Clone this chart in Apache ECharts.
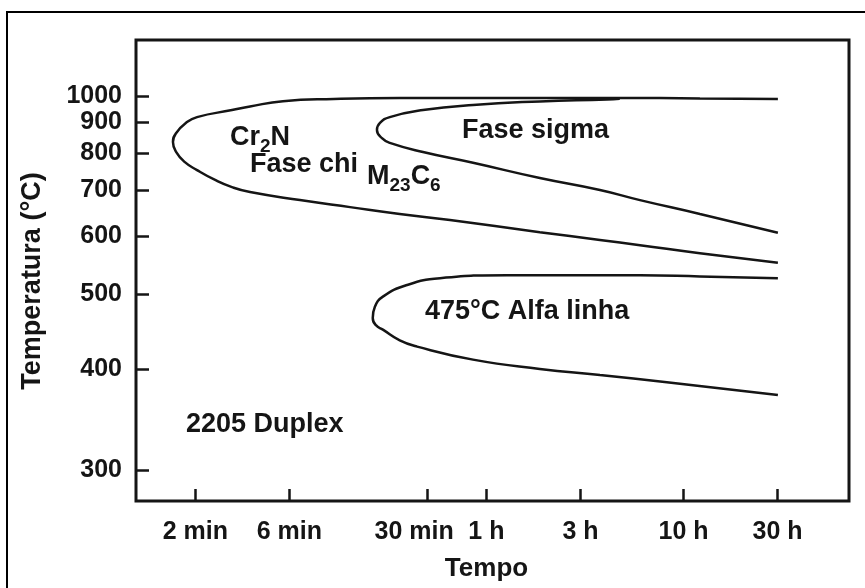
<!DOCTYPE html>
<html>
<head>
<meta charset="utf-8">
<script src="https://cdn.jsdelivr.net/npm/echarts@6/dist/echarts.min.js"></script>
<style>
  html, body { margin: 0; padding: 0; background: #ffffff; }
  #chart { width: 865px; height: 588px; }
</style>
</head>
<body>
<div id="chart"></div>
<script>
// Precipitation curves (TTP diagram) for 2205 duplex stainless steel.
// Times are in minutes, temperatures in °C.

const timeTicks = [2, 6, 30, 60, 180, 600, 1800];
const timeTickLabels = ['2 min', '6 min', '30 min', '1 h', '3 h', '10 h', '30 h'];
const tempTicks = [300, 400, 500, 600, 700, 800, 900, 1000];

// Cr2N / chi phase / M23C6 envelope: upper branch, nose, lower branch
const chiTime = [1808, 727, 285, 112, 39.2, 21.8, 10.1, 5.57, 3.79, 3.07, 2.04, 1.79, 1.60, 1.54, 1.60, 1.77, 2.04, 2.52, 3.07, 3.79, 6.79, 12.2, 21.8, 39.2, 112, 226, 361, 727, 1808];
const chiTemp = [988, 990, 992, 992, 992, 992, 988, 979, 958, 944, 918, 897, 863, 834, 803, 774, 752, 726, 708, 696, 677, 661, 646, 633, 608, 593, 583, 568, 551];

// Sigma phase envelope
const sigmaTime = [285, 245, 112, 51.3, 28.6, 19.4, 17.3, 16.7, 17.7, 19.4, 28.6, 51.3, 112, 226, 361, 727, 1808];
const sigmaTemp = [989, 986, 978, 964, 944, 918, 897, 873, 846, 831, 803, 772, 731, 701, 677, 646, 607];

// 475 °C embrittlement (alpha prime) envelope
const alphaTime = [1808, 727, 361, 179, 76.3, 34.9, 23.7, 17.9, 16.3, 15.9, 16.5, 17.9, 21.8, 26.7, 51.3, 112, 226, 494, 1808];
const alphaTemp = [525, 528, 530, 530, 530, 525, 514, 496, 481, 465, 455, 449, 435, 427, 411, 400, 393, 385, 371];

// Axis extents
const TIME_MIN = 1, TIME_MAX = 4150;
const TEMP_TOP = 1285, TEMP_BOTTOM = 275;

// Time axis is logarithmic; temperature axis is linear in 1/T (absolute).
const toX = m => Math.log10(m);
const toY = t => 10000 / (t + 273.15);
const fromY = v => 10000 / v - 273.15;

const pairs = (ts, temps) => ts.map((m, i) => [toX(m), toY(temps[i])]);

const FONT = "'Liberation Sans', Arial, Helvetica, sans-serif";
const INK = '#151515';

const chart = echarts.init(document.getElementById('chart'), null, { renderer: 'canvas' });

const tickX = timeTicks.map(toX);
const tickY = tempTicks.map(toY);

function curve(name, data) {
  return {
    name, type: 'line', data,
    showSymbol: false, symbol: 'none',
    smooth: 0.5,
    lineStyle: { color: INK, width: 2.5 },
    silent: true, z: 3
  };
}

function textItem(text, x, y, rich) {
  return {
    type: 'text', x, y, silent: true, z: 10,
    style: {
      text, rich,
      fill: INK,
      font: `bold 27px ${FONT}`,
      textAlign: 'left', textVerticalAlign: 'middle'
    }
  };
}

const subRich = {
  a: { fontSize: 27, fontWeight: 'bold', fontFamily: FONT, color: INK, lineHeight: 30 },
  s: { fontSize: 19, fontWeight: 'bold', fontFamily: FONT, color: INK, lineHeight: 24, verticalAlign: 'bottom', padding: [0, 0, -3, 0] }
};

chart.setOption({
  backgroundColor: '#ffffff',
  animation: false,
  grid: {
    left: 136, right: 16, top: 40, bottom: 87,
    containLabel: false, outerBoundsMode: 'none',
    show: true, borderColor: INK, borderWidth: 3, backgroundColor: 'transparent'
  },
  xAxis: {
    type: 'value',
    min: toX(TIME_MIN), max: toX(TIME_MAX),
    name: 'Tempo', nameLocation: 'middle', nameGap: 55,
    nameTextStyle: { color: INK, fontFamily: FONT, fontWeight: 'bold', fontSize: 26, padding: [0, 12, 0, 0] },
    axisLine: { show: false },
    splitLine: { show: false },
    axisTick: { show: true, inside: true, length: 12, customValues: tickX, lineStyle: { color: INK, width: 2.5 } },
    axisLabel: {
      customValues: tickX, margin: 19,
      color: INK, fontFamily: FONT, fontWeight: 'bold', fontSize: 25,
      formatter: v => {
        let best = 0;
        tickX.forEach((t, i) => { if (Math.abs(t - v) < Math.abs(tickX[best] - v)) best = i; });
        // the half-hour label sits a little left so it clears "1 h"
        return best === 2 ? '{l|' + timeTickLabels[best] + '}' : timeTickLabels[best];
      },
      rich: {
        l: { fontSize: 25, fontWeight: 'bold', fontFamily: FONT, color: INK, padding: [0, 26, 0, 0] }
      }
    }
  },
  yAxis: {
    type: 'value', inverse: true,
    min: toY(TEMP_TOP), max: toY(TEMP_BOTTOM),
    axisLine: { show: false },
    splitLine: { show: false },
    axisTick: { show: true, inside: true, length: 13, customValues: tickY, lineStyle: { color: INK, width: 2.5 } },
    axisLabel: {
      customValues: tickY, margin: 14,
      color: INK, fontFamily: FONT, fontWeight: 'bold', fontSize: 25,
      formatter: v => String(Math.round(fromY(v)))
    }
  },
  series: [
    curve('Cr2N / chi / M23C6', pairs(chiTime, chiTemp)),
    curve('sigma', pairs(sigmaTime, sigmaTemp)),
    curve('alfa linha', pairs(alphaTime, alphaTemp))
  ],
  graphic: [
    { type: 'rect', silent: true, z: 0,
      shape: { x: 7, y: 12, width: 900, height: 620 },
      style: { fill: 'none', stroke: '#000', lineWidth: 2 } },
    {
      type: 'text', x: 33, y: 281, rotation: Math.PI / 2, silent: true, z: 10,
      style: { text: 'Temperatura (°C)', fill: INK, font: `bold 27px ${FONT}`, textAlign: 'center', textVerticalAlign: 'middle' }
    },
    textItem('{a|Cr}{s|2}{a|N}', 230, 138, subRich),
    textItem('Fase chi', 250, 165),
    textItem('{a|M}{s|23}{a|C}{s|6}', 367, 177, subRich),
    textItem('Fase sigma', 462, 131),
    textItem('475°C Alfa linha', 425, 312),
    textItem('2205 Duplex', 186, 425)
  ]
});
</script>
</body>
</html>
